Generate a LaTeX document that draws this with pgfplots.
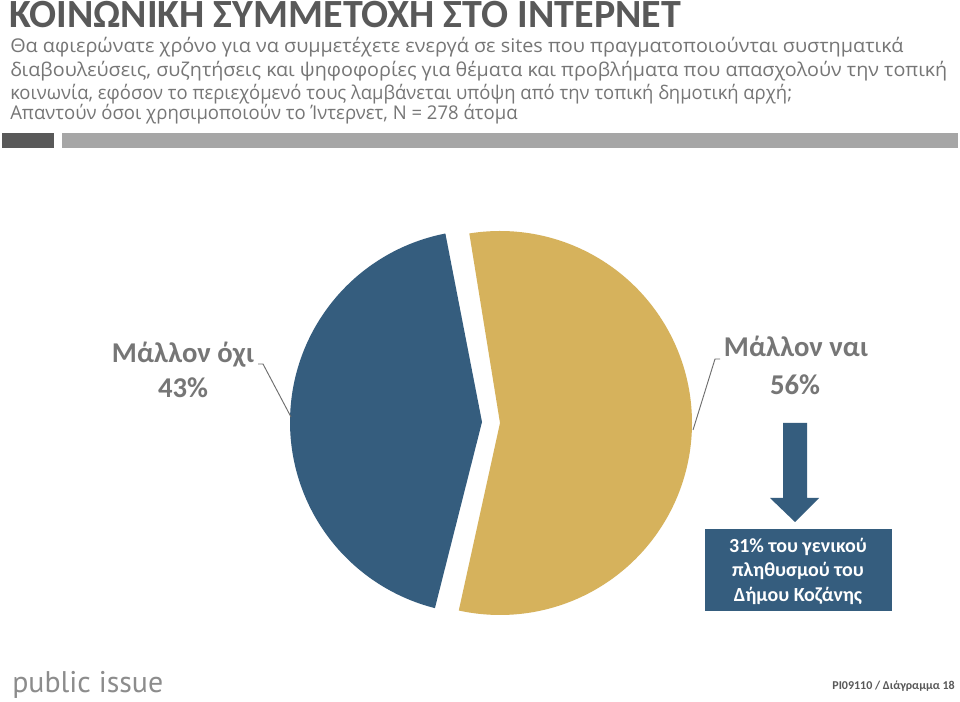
\documentclass[border=0pt]{standalone}
\usepackage{pgfplots}
\pgfplotsset{compat=1.18}
\usepackage{pgfplotstable}
\usepackage{fontspec}
\setmainfont{Carlito}
\newfontfamily\carlito{Carlito}
\newfontfamily\opensans{Open Sans}
\newfontfamily\logofont{PT Sans}
\definecolor{pieblue}{RGB}{53,93,126}
\definecolor{piegold}{RGB}{214,178,92}
\definecolor{titlegray}{RGB}{89,89,89}
\definecolor{subgray}{RGB}{118,118,118}
\definecolor{labgray}{RGB}{118,118,118}
\definecolor{bardark}{RGB}{89,89,89}
\definecolor{barlight}{RGB}{166,166,166}
\definecolor{leadgray}{RGB}{110,110,110}
\definecolor{logogray}{RGB}{140,140,140}

\pgfplotstableread{
label value
nai 56
oxi 43
}\piedata

\begin{document}
\begin{tikzpicture}
\pgfplotstablegetelem{0}{value}\of\piedata \let\vnai\pgfplotsretval
\pgfplotstablegetelem{1}{value}\of\piedata \let\voxi\pgfplotsretval
\pgfmathsetmacro\gend{99.2}
\pgfmathsetmacro\gstart{\gend-3.6*\vnai}
\pgfmathsetmacro\bstart{\gend+1.8}
\pgfmathsetmacro\bend{\bstart+3.6*\voxi}
\begin{axis}[
  name=main,
  width=720pt, height=526.5pt, scale only axis,
  xmin=0, xmax=960, ymin=0, ymax=702,
  hide axis, clip=false,
]
\fill[white] (axis cs:0,0) rectangle (axis cs:960,702);
% title
\node[anchor=base west, inner sep=0, text=titlegray, font=\carlito\bfseries\fontsize{30}{32}\selectfont] at (axis cs:9,674) {ΚΟΙΝΩΝΙΚΗ ΣΥΜΜΕΤΟΧΗ ΣΤΟ ΙΝΤΕΡΝΕΤ};
% subtitle
\node[anchor=base west, inner sep=0, text=subgray, font=\opensans\fontsize{14.2}{16}\selectfont] at (axis cs:10,649) {\scalebox{1.048}[1]{Θα αφιερώνατε χρόνο για να συμμετέχετε ενεργά σε sites που πραγματοποιούνται συστηματικά}};
\node[anchor=base west, inner sep=0, text=subgray, font=\opensans\fontsize{14.2}{16}\selectfont] at (axis cs:10,625) {\scalebox{1.042}[1]{διαβουλεύσεις, συζητήσεις και ψηφοφορίες για θέματα και προβλήματα που απασχολούν την τοπική}};
\node[anchor=base west, inner sep=0, text=subgray, font=\opensans\fontsize{14.2}{16}\selectfont] at (axis cs:10,602) {\scalebox{0.974}[1]{κοινωνία, εφόσον το περιεχόμενό τους λαμβάνεται υπόψη από την τοπική δημοτική αρχή;}};
\node[anchor=base west, inner sep=0, text=subgray, font=\opensans\fontsize{14.2}{16}\selectfont] at (axis cs:10,582) {\scalebox{0.978}[1]{Απαντούν όσοι χρησιμοποιούν το Ίντερνετ, N = 278 άτομα}};
% bars
\fill[bardark] (axis cs:2,569) rectangle (axis cs:54,554);
\fill[barlight] (axis cs:62,569) rectangle (axis cs:958,554);
% pie
\addplot[draw=none, fill=piegold, domain=\gstart:\gend, samples=180, variable=\t]
  ({500+192*cos(\t)},{279+192*sin(\t)}) -- (axis cs:500,279) -- cycle;
\addplot[draw=none, fill=pieblue, domain=\bstart:\bend, samples=150, variable=\t]
  ({482+192*cos(\t)},{280+192*sin(\t)}) -- (axis cs:482,280) -- cycle;
% leader lines
\draw[leadgray, line width=0.7pt] (axis cs:258,338) -- (axis cs:263,338) -- (axis cs:291,285);
\draw[leadgray, line width=0.7pt] (axis cs:720,343) -- (axis cs:715,343) -- (axis cs:693,272);
% labels
\node[anchor=base, inner sep=0, text=labgray, font=\carlito\bfseries\fontsize{21.5}{23}\selectfont] at (axis cs:183,339) {Μάλλον όχι};
\node[anchor=base, inner sep=0, text=labgray, font=\carlito\bfseries\fontsize{21.5}{23}\selectfont] at (axis cs:183,304) {\voxi\%};
\node[anchor=base, inner sep=0, text=labgray, font=\carlito\bfseries\fontsize{21.5}{23}\selectfont] at (axis cs:796,345) {Μάλλον ναι};
\node[anchor=base, inner sep=0, text=labgray, font=\carlito\bfseries\fontsize{21.5}{23}\selectfont] at (axis cs:795,307) {\vnai\%};
% arrow
\fill[pieblue] (axis cs:783,279) -- (axis cs:807,279) -- (axis cs:807,204) -- (axis cs:819,204) -- (axis cs:795,180) -- (axis cs:770,204) -- (axis cs:783,204) -- cycle;
% box
\fill[pieblue] (axis cs:705,173) rectangle (axis cs:892,91);
\node[anchor=base, inner sep=0, text=white, font=\carlito\bfseries\fontsize{15}{16}\selectfont] at (axis cs:798,149) {31\% του γενικού};
\node[anchor=base, inner sep=0, text=white, font=\carlito\bfseries\fontsize{15}{16}\selectfont] at (axis cs:798,125) {πληθυσμού του};
\node[anchor=base, inner sep=0, text=white, font=\carlito\bfseries\fontsize{15}{16}\selectfont] at (axis cs:798,100) {Δήμου Κοζάνης};
% footer
\node[anchor=base west, inner sep=0, text=logogray, font=\logofont\fontsize{22.4}{24}\selectfont] at (axis cs:12,9) {public issue};
\node[anchor=base east, inner sep=0, text=titlegray, font=\carlito\bfseries\fontsize{9}{10}\selectfont] at (axis cs:955,12) {PI09110 / Διάγραμμα 18};
\end{axis}
\pgfresetboundingbox
\path[use as bounding box] (main.south west) rectangle (main.north east);
\end{tikzpicture}
\end{document}
